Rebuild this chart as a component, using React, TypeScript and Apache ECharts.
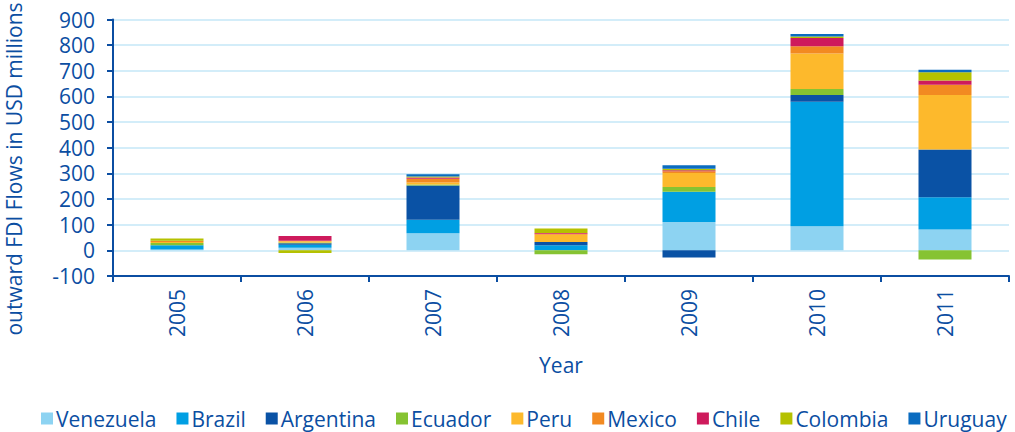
import React, { useEffect, useRef } from "react";
import * as echarts from "echarts";

const years = ["2005", "2006", "2007", "2008", "2009", "2010", "2011"];
const countries = ["Venezuela", "Brazil", "Argentina", "Ecuador", "Peru", "Mexico", "Chile", "Colombia", "Uruguay"];
const colors = ["#8DD3F2", "#009FE3", "#0A52A5", "#86C332", "#FDB92C", "#F28A21", "#CE1A5C", "#B5C100", "#0A6CC0"];

const venezuela = [3, 10, 67, 0, 111, 94, 81];
const brazil = [17, 12, 52, 20, 117, 485, 126];
const argentina = [0, 6, 134, 13, -28, 27, 186];
const ecuador = [9, 3, 4, -15, 19, 23, -36];
const peru = [4, 4, 8, 28, 55, 138, 213];
const mexico = [4, 2, 14, 4, 6, 29, 40];
const chile = [0, 19, 5, 3, 4, 32, 16];
const colombia = [9, -10, 4, 17, 6, 6, 32];
const uruguay = [0, 0, 9, 0, 14, 9, 10];

const seriesValues = [venezuela, brazil, argentina, ecuador, peru, mexico, chile, colombia, uruguay];

const TEXT = "#0B4EA2";
const FONT = "Open Sans";
const FS = 21;

export default function App() {
  const ref = useRef<HTMLDivElement>(null);
  useEffect(() => {
    document.body.style.margin = "0";
    const chart = echarts.init(ref.current!, null, { renderer: "svg" });
    chart.setOption({
      animation: false,
      color: colors,
      textStyle: { fontFamily: FONT, color: TEXT },
      grid: { left: 113, right: 6, top: 19.5, bottom: 156, containLabel: false },
      legend: {
        bottom: 3,
        left: 41,
        right: 0,
        padding: 0,
        itemWidth: 12,
        itemHeight: 12,
        itemGap: 20,
        icon: "rect",
        textStyle: { fontFamily: FONT, fontSize: FS, color: TEXT, padding: [0, 0, 0, -2] },
        data: countries,
      },
      xAxis: {
        type: "category",
        data: years,
        name: "Year",
        nameLocation: "middle",
        nameGap: 78,
        nameTextStyle: { fontFamily: FONT, fontSize: FS, color: TEXT },
        axisLine: { onZero: false, lineStyle: { color: TEXT, width: 2 } },
        axisTick: { show: true, length: 6, lineStyle: { color: TEXT, width: 2 } },
        axisLabel: { rotate: 90, fontFamily: FONT, fontSize: FS, color: TEXT, margin: 13 },
      },
      yAxis: {
        type: "value",
        min: -100,
        max: 900,
        interval: 100,
        axisLine: { show: true, lineStyle: { color: TEXT, width: 2 } },
        axisTick: { show: true, length: 6, lineStyle: { color: TEXT, width: 2 } },
        axisLabel: { fontFamily: FONT, fontSize: FS, color: TEXT, margin: 18 },
        splitLine: { show: true, lineStyle: { color: "#C4E7F7", width: 1.5 } },
      },
      graphic: [
        {
          type: "text",
          x: 14,
          y: 169,
          rotation: Math.PI / 2,
          style: {
            text: "outward FDI Flows in USD millions",
            fontFamily: FONT,
            fontSize: FS,
            fill: TEXT,
            align: "center",
            verticalAlign: "middle",
          },
        },
      ],
      series: countries.map((name, i) => ({
        name,
        type: "bar",
        stack: "total",
        barWidth: 53,
        data: seriesValues[i],
        itemStyle: { color: colors[i] },
      })),
    });
    return () => chart.dispose();
  }, []);
  return <div ref={ref} style={{ width: 1015, height: 432 }} />;
}
